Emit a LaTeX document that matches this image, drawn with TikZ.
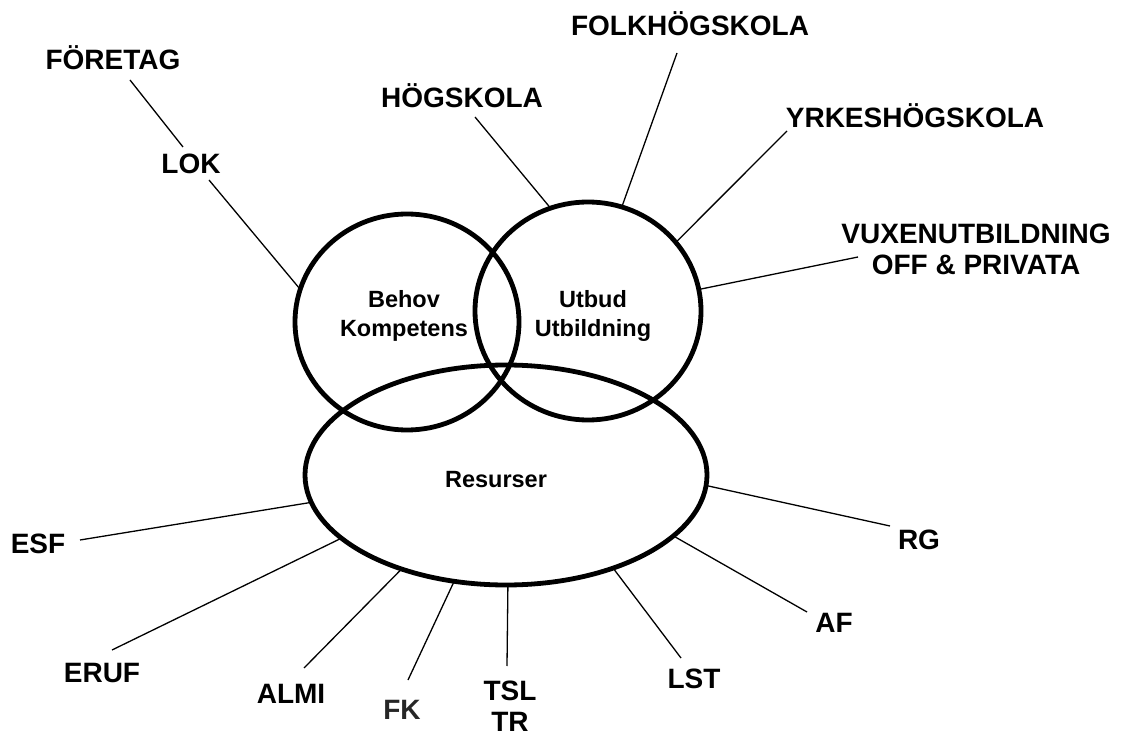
\documentclass[tikz,border=0pt]{standalone}
\usepackage{fontspec}
\setmainfont{Liberation Sans}
\usetikzlibrary{shapes.geometric}
\begin{document}
\begin{tikzpicture}[x=1pt,y=-1pt,
  lbl/.style={font=\fontsize{28}{31}\selectfont\bfseries, align=center, inner sep=0pt, anchor=base},
  inlbl/.style={font=\fontsize{23.5}{29}\selectfont\bfseries, align=center, inner sep=0pt, anchor=base},
  ring/.style={ellipse, draw=black, line width=4.8pt, inner sep=0pt, outer sep=0pt},
  link/.style={line width=1.3pt, draw=black}]
\useasboundingbox (0,0) rectangle (1125,735);
\fill[white] (0,0) rectangle (1125,735);

% shapes
\node[ring, minimum width=224pt, minimum height=216pt] (behov) at (407,322) {};
\node[ring, minimum width=226pt, minimum height=218pt] (utbud) at (588,311) {};
\node[ring, minimum width=402pt, minimum height=220pt] (res) at (506,475) {};

% inner labels (base = last line)
\node[inlbl] (tb) at (404,337) {Behov\\Kompetens};
\node[inlbl] (tu) at (593,337) {Utbud\\Utbildning};
\node[inlbl] (tr) at (496,487) {Resurser};

% outer labels
\node[lbl] (foretag) at (113,70) {FÖRETAG};
\node[lbl] (lok) at (191,174) {LOK};
\node[lbl] (hogskola) at (462,108) {HÖGSKOLA};
\node[lbl] (folk) at (690,36) {FOLKHÖGSKOLA};
\node[lbl] (yrkes) at (915,128) {YRKESHÖGSKOLA};
\node[lbl] (vuxen) at (976,275) {VUXENUTBILDNING\\OFF \& PRIVATA};
\node[lbl] (esf) at (38,553) {ESF};
\node[lbl] (eruf) at (102,682) {ERUF};
\node[lbl] (almi) at (291,703) {ALMI};
\node[lbl, text=black!85] (fk) at (402,719) {FK};
\node[lbl] (tsl) at (510,731) {TSL\\TR};
\node[lbl] (lst) at (694,688) {LST};
\node[lbl] (af) at (834,632) {AF};
\node[lbl] (rg) at (919,549) {RG};

% free ends near labels
\coordinate (e-foretag) at (130,80);
\coordinate (e-lok1) at (183,147);
\coordinate (e-lok2) at (209,180);
\coordinate (e-hog) at (475,117);
\coordinate (e-folk) at (677,53);
\coordinate (e-yrk) at (787,131);
\coordinate (e-vux) at (858,257);
\coordinate (e-esf) at (80,540);
\coordinate (e-eruf) at (112,650);
\coordinate (e-almi) at (304,668);
\coordinate (e-fk) at (408,680);
\coordinate (e-tsl) at (507,666);
\coordinate (e-lst) at (681,658);
\coordinate (e-af) at (807,612);
\coordinate (e-rg) at (890,526);

% connectors
\draw[link] (e-foretag) -- (e-lok1);
\draw[link] (e-lok2) -- (behov.163.8);
\draw[link] (e-hog) -- (utbud.110.7);
\draw[link] (e-folk) -- (utbud.72);
\draw[link] (e-yrk) -- (utbud.38.4);
\draw[link] (e-vux) -- (utbud.11.6);
\draw[link] (e-esf) -- (res.188.2);
\draw[link] (e-eruf) -- (res.201.6);
\draw[link] (e-almi) -- (res.222.5);
\draw[link] (e-fk) -- (res.244.3);
\draw[link] (e-tsl) -- (res.271);
\draw[link] (e-lst) -- (res.319.7);
\draw[link] (e-af) -- (res.340.6);
\draw[link] (e-rg) -- (res.357.8);
\end{tikzpicture}
\end{document}
